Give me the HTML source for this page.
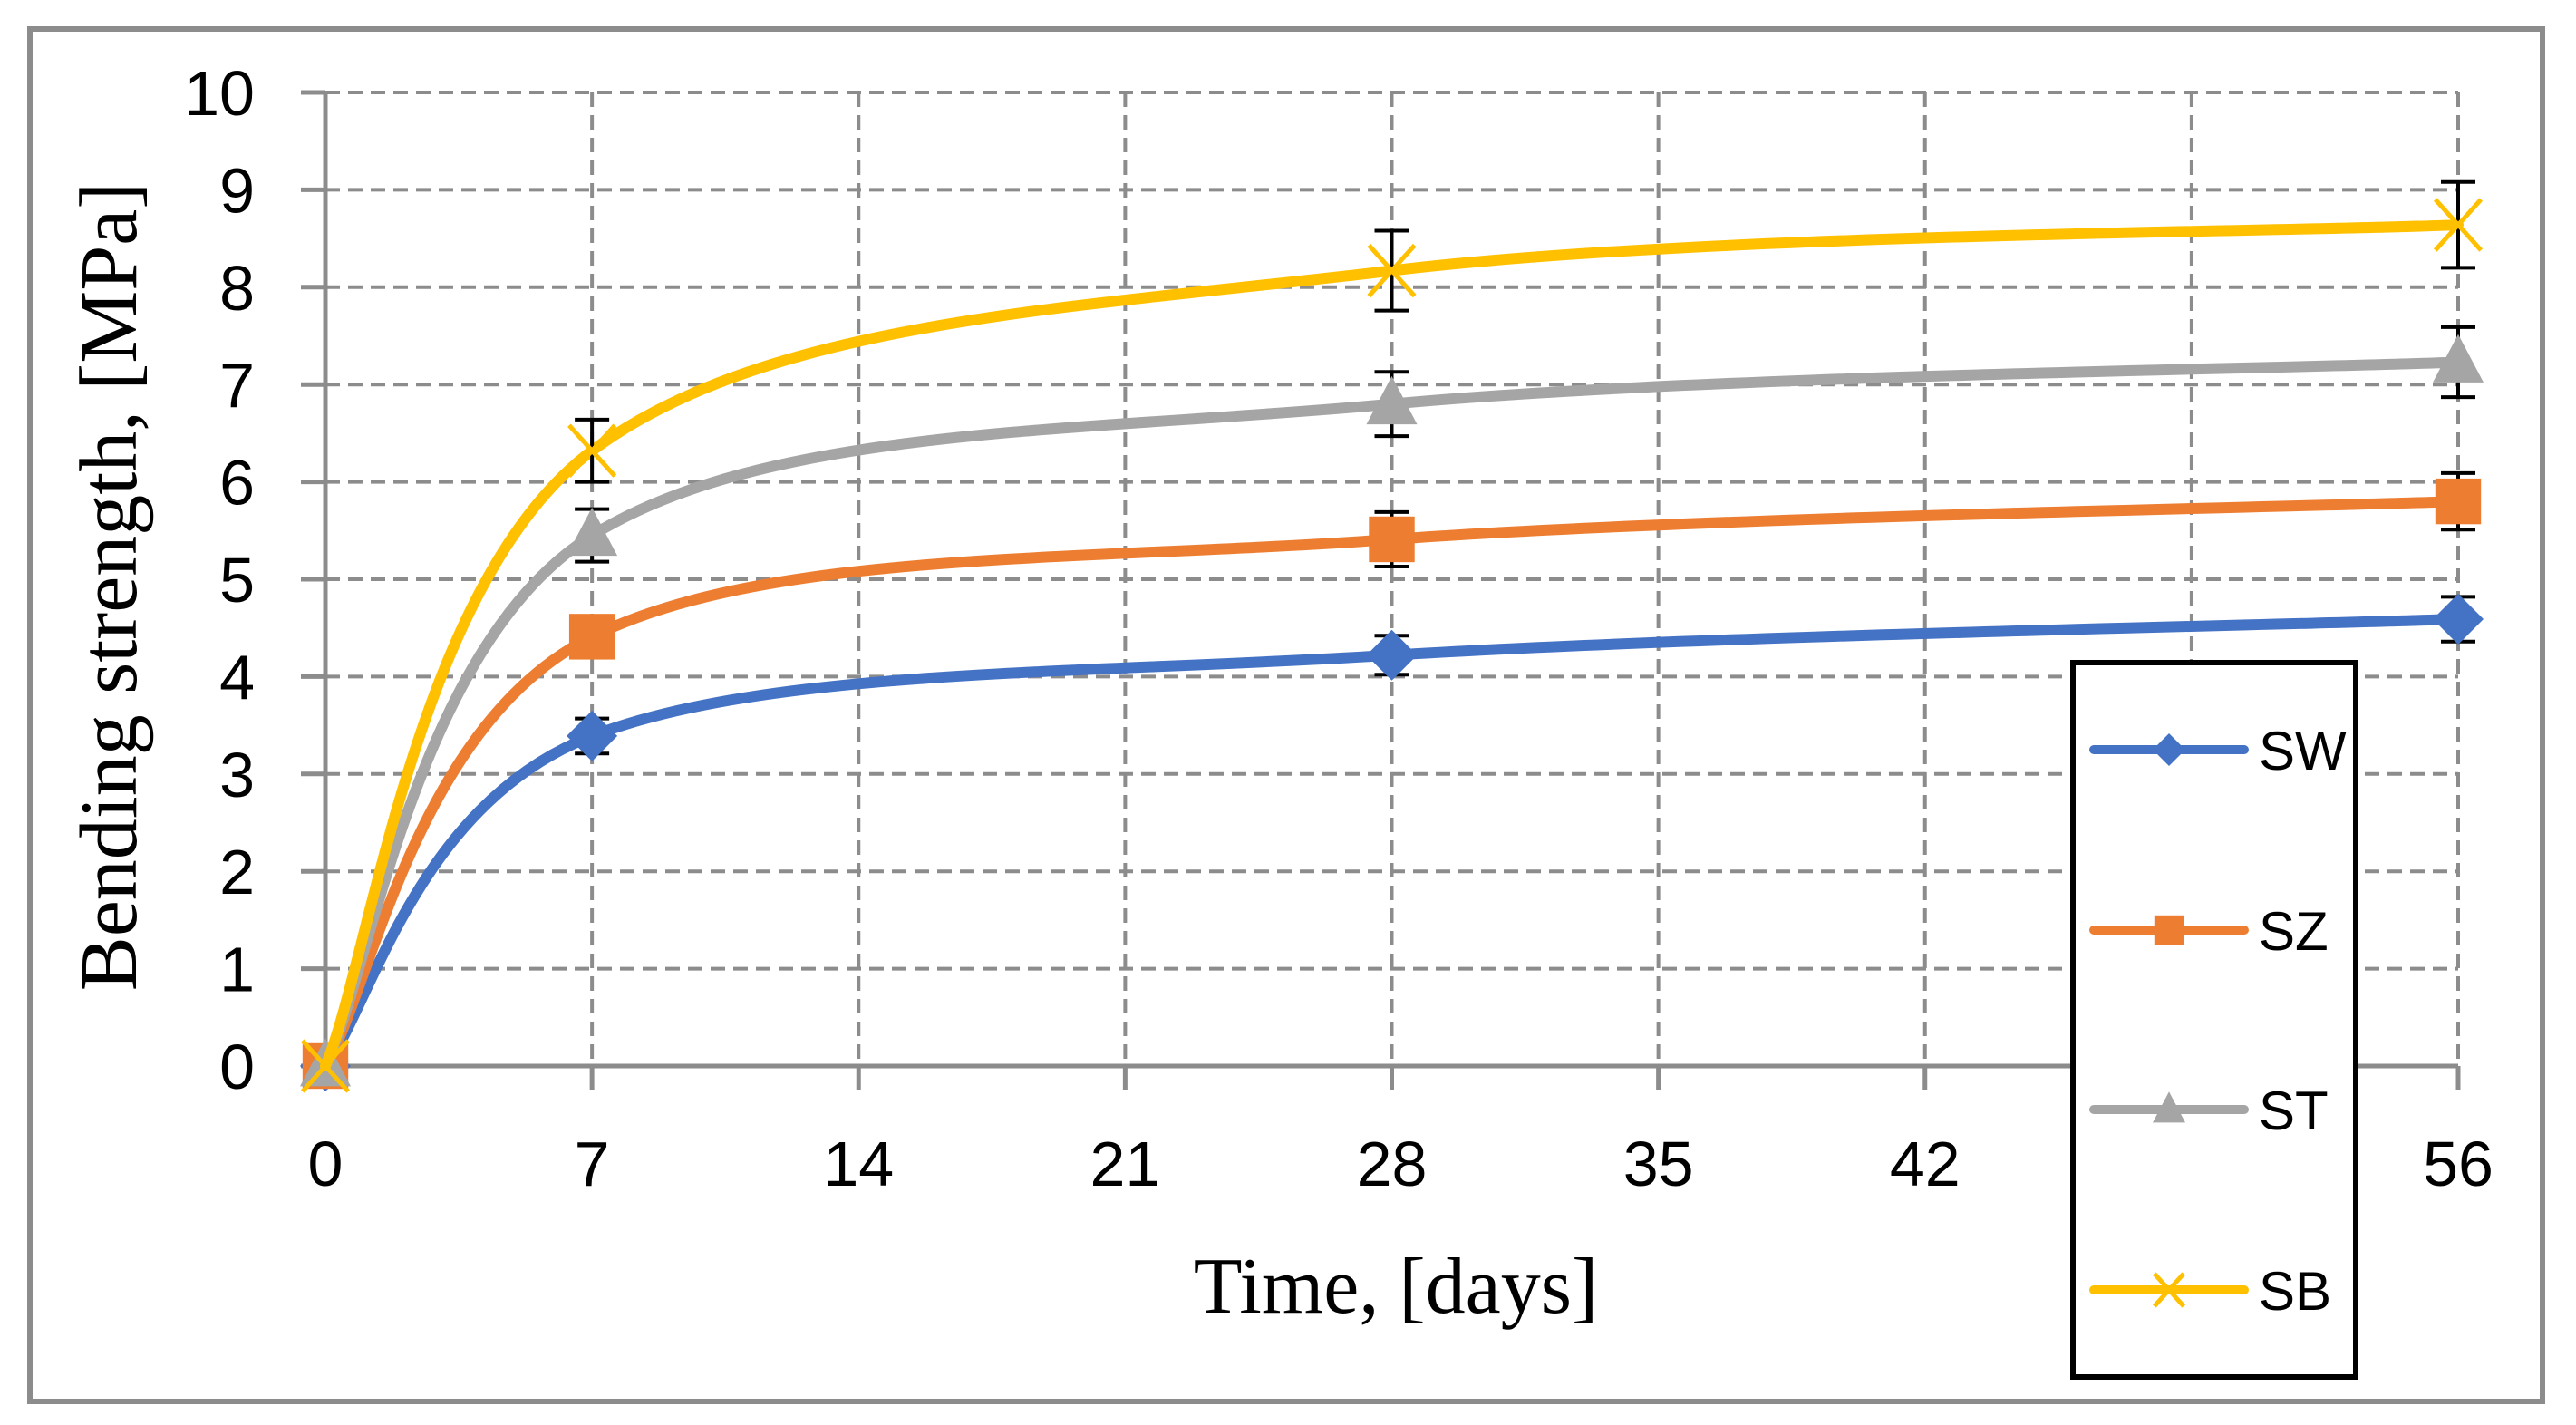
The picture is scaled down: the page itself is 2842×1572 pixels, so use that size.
<!DOCTYPE html>
<html><head><meta charset="utf-8"><style>
html,body{margin:0;padding:0;background:#fff;}
svg{display:block;}
</style></head><body>
<svg id="chart" width="2842" height="1572" viewBox="0 0 2842 1572" xmlns="http://www.w3.org/2000/svg">
<rect x="33" y="32" width="2772" height="1514" fill="#fff" stroke="#8c8c8c" stroke-width="6"/>
<g id="grid"></g>
<g id="axes"></g>
<g id="series"></g>
<text transform="translate(150,647) rotate(-90)" text-anchor="middle" font-family="Liberation Serif, serif" font-size="90">Bending strength, [MPa]</text>
<text x="1540" y="1448" text-anchor="middle" font-family="Liberation Serif, serif" font-size="88">Time, [days]</text>
<g>
<rect x="2287" y="731" width="312" height="788" fill="#fff" stroke="#000" stroke-width="6"/>
<g id="legend-items"></g>
</g>
</svg>
<script>
const days = [0, 7, 28, 56];
const xTicks = [0, 7, 14, 21, 28, 35, 42, 56];
const xGrid = [0, 7, 14, 21, 28, 35, 42, 49, 56];
const yTicks = [0, 1, 2, 3, 4, 5, 6, 7, 8, 9, 10];
const seriesNames = ["SW", "SZ", "ST", "SB"];
const swValues = [0, 3.39, 4.22, 4.59];
const szValues = [0, 4.41, 5.41, 5.8];
const stValues = [0, 5.45, 6.8, 7.23];
const sbValues = [0, 6.32, 8.17, 8.64];
const swErr = [0, 0.18, 0.2, 0.23];
const szErr = [0, 0.15, 0.28, 0.29];
const stErr = [0, 0.27, 0.33, 0.36];
const sbErr = [0, 0.32, 0.41, 0.44];

const X0 = 359, X1 = 2712, Y0 = 1176, Y1 = 102;
const xs = d => X0 + (d - 0) / 56 * (X1 - X0);
const ys = v => Y0 - v / 10 * (Y0 - Y1);
const NS = "http://www.w3.org/2000/svg";
function mk(tag, attrs, parent) {
  const e = document.createElementNS(NS, tag);
  for (const k in attrs) e.setAttribute(k, attrs[k]);
  parent.appendChild(e);
  return e;
}
const grid = document.getElementById('grid');
const axes = document.getElementById('axes');
const ser = document.getElementById('series');

yTicks.forEach(v => {
  if (v > 0) {
    const l = mk('line', {x1: X0, x2: X1, y1: ys(v), y2: ys(v), stroke: '#8c8c8c', 'stroke-width': 4, 'stroke-dasharray': '16 9'}, grid);
    
    
  }
  const t = mk('line', {x1: X0 - 27, x2: X0, y1: ys(v), y2: ys(v), stroke: '#8c8c8c', 'stroke-width': 5}, axes);
  
  
  const tx = mk('text', {x: 281, y: ys(v) + 25, 'text-anchor': 'end', 'font-family': 'Liberation Sans, sans-serif', 'font-size': 70}, axes);
  tx.textContent = v;
  
  
});
xGrid.forEach(d => {
  if (d > 0) {
    const l = mk('line', {x1: xs(d), x2: xs(d), y1: Y1, y2: Y0, stroke: '#8c8c8c', 'stroke-width': 4, 'stroke-dasharray': '16 9'}, grid);
    
    
  }
  const t = mk('line', {x1: xs(d), x2: xs(d), y1: Y0, y2: Y0 + 26, stroke: '#8c8c8c', 'stroke-width': 5}, axes);
  
  
});
xTicks.forEach(d => {
  const tx = mk('text', {x: xs(d), y: 1308, 'text-anchor': 'middle', 'font-family': 'Liberation Sans, sans-serif', 'font-size': 70}, axes);
  tx.textContent = d;
  
  
});
const ya = mk('line', {x1: X0, x2: X0, y1: Y1, y2: Y0, stroke: '#8c8c8c', 'stroke-width': 5}, axes);


const xa = mk('line', {x1: X0, x2: X1, y1: Y0, y2: Y0, stroke: '#8c8c8c', 'stroke-width': 5}, axes);



const colors = ['#4472c4', '#ed7d31', '#a5a5a5', '#ffc000'];
const markers = ['diamond', 'square', 'triangle', 'x'];
const allVals = [swValues, szValues, stValues, sbValues];
const allErr = [swErr, szErr, stErr, sbErr];

function smoothPath(pts) {
  let d = `M${pts[0][0]},${pts[0][1]}`;
  for (let i = 0; i < pts.length - 1; i++) {
    const p0 = pts[i - 1] || pts[i], p1 = pts[i], p2 = pts[i + 1], p3 = pts[i + 2] || p2;
    const c1 = [p1[0] + (p2[0] - p0[0]) / 6, p1[1] + (p2[1] - p0[1]) / 6];
    const c2 = [p2[0] - (p3[0] - p1[0]) / 6, p2[1] - (p3[1] - p1[1]) / 6];
    d += ` C${c1[0]},${c1[1]} ${c2[0]},${c2[1]} ${p2[0]},${p2[1]}`;
  }
  return d;
}
function marker(type, cx, cy, color, parent, s) {
  let e;
  if (type === 'diamond') e = mk('polygon', {points: `${cx},${cy - s} ${cx + s},${cy} ${cx},${cy + s} ${cx - s},${cy}`, fill: color}, parent);
  else if (type === 'square') e = mk('rect', {x: cx - s * 0.9, y: cy - s * 0.9, width: s * 1.8, height: s * 1.8, fill: color}, parent);
  else if (type === 'triangle') e = mk('polygon', {points: `${cx},${cy - s * 1.1} ${cx + s},${cy + s * 0.8} ${cx - s},${cy + s * 0.8}`, fill: color}, parent);
  else e = mk('path', {d: `M${cx - s * 0.9},${cy - s} L${cx + s * 0.9},${cy + s} M${cx + s * 0.9},${cy - s} L${cx - s * 0.9},${cy + s}`, stroke: color, 'stroke-width': 5, fill: 'none'}, parent);
  return e;
}
allVals.forEach((vals, si) => {
  const g = mk('g', {}, ser);
  
  
  const pts = days.map((d, i) => [xs(d), ys(vals[i])]);
  const p = mk('path', {d: smoothPath(pts), fill: 'none', stroke: colors[si], 'stroke-width': 12, 'stroke-linecap': 'round'}, g);
  
  
  days.forEach((d, i) => {
    const err = allErr[si][i];
    if (err > 0) {
      const cx = xs(d), top = ys(vals[i] + err), bot = ys(vals[i] - err);
      const eb = mk('path', {d: `M${cx},${top} L${cx},${bot} M${cx - 19},${top} L${cx + 19},${top} M${cx - 19},${bot} L${cx + 19},${bot}`, stroke: '#000', 'stroke-width': 4, fill: 'none'}, g);
      
      
    }
    const m = marker(markers[si], xs(d), ys(vals[i]), colors[si], g, 28);
    
    
  });
});

const leg = document.getElementById('legend-items');
const legY = [827, 1026, 1224, 1423];
seriesNames.forEach((n, si) => {
  const g = mk('g', {}, leg);
  
  
  mk('line', {x1: 2310, x2: 2476, y1: legY[si], y2: legY[si], stroke: colors[si], 'stroke-width': 10, 'stroke-linecap': 'round'}, g);
  marker(markers[si], 2393, legY[si], colors[si], g, 18);
  const t = mk('text', {x: 2492, y: legY[si] + 22, 'font-family': 'Liberation Sans, sans-serif', 'font-size': 60}, g);
  t.textContent = n;
});
</script>
</body></html>
